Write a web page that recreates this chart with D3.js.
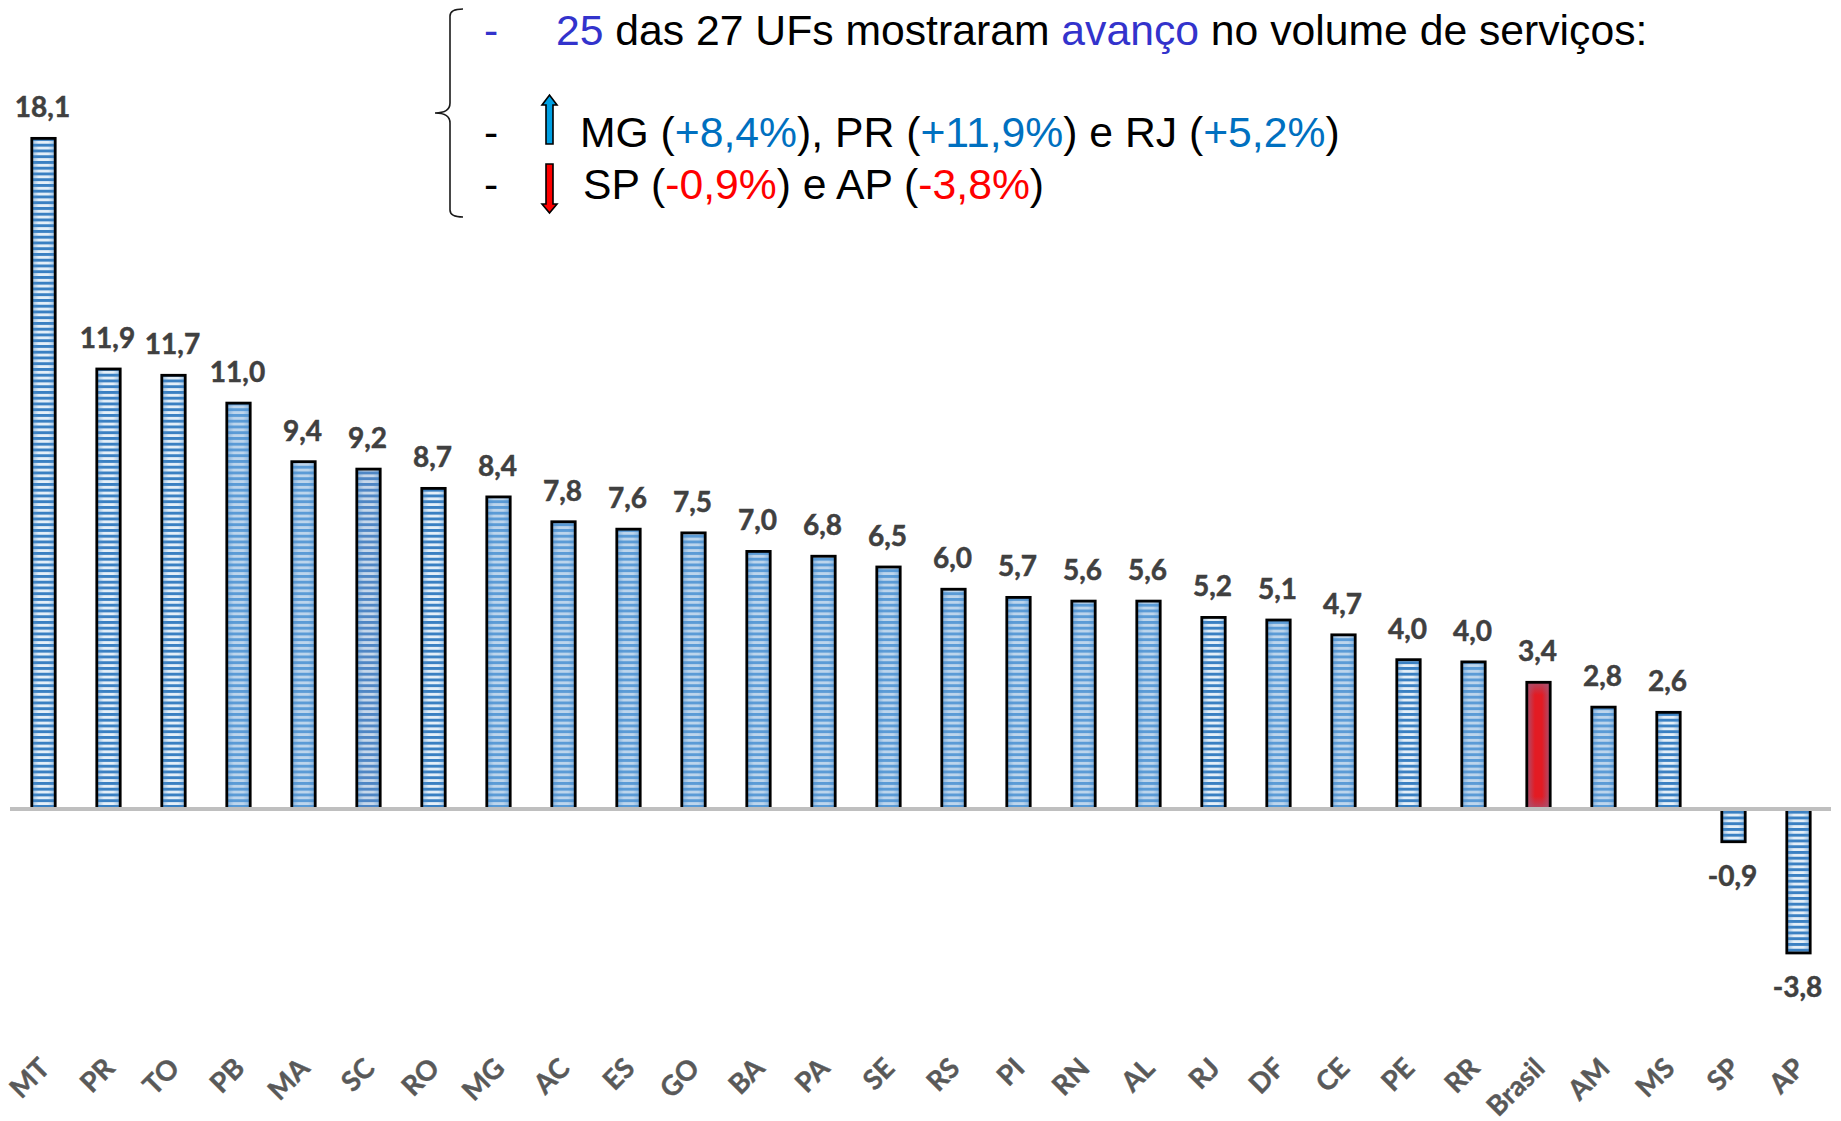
<!DOCTYPE html>
<html lang="pt">
<head>
<meta charset="utf-8">
<script src="https://cdn.jsdelivr.net/npm/d3@7"></script>
<style>
  html, body { margin: 0; background: #fff; }
  svg { display: block; }
  .note { font-family: "Liberation Sans", Arial, sans-serif; font-size: 42.7px; fill: #000; }
  .value-label { font-family: Lato, sans-serif; font-weight: 700; font-size: 28px; fill: #404040; stroke: #404040; stroke-width: 0.5; text-anchor: middle; }
  .x-axis text { font-family: Lato, sans-serif; font-weight: 700; font-size: 27.5px; fill: #595959; stroke: #595959; stroke-width: 0.4; }
</style>
</head>
<body>
<div id="chart"></div>
<script>
// Dados do grafico
const categories = ["MT", "PR", "TO", "PB", "MA", "SC", "RO", "MG", "AC", "ES", "GO", "BA", "PA", "SE",
    "RS", "PI", "RN", "AL", "RJ", "DF", "CE", "PE", "RR", "Brasil", "AM", "MS", "SP", "AP"];
// Alturas; os rotulos impressos ficam em value_labels
const values = [18.09, 11.87, 11.70, 10.95, 9.37, 9.17, 8.65, 8.42, 7.75, 7.55, 7.45, 6.95, 6.82, 6.53,
    5.93, 5.71, 5.61, 5.61, 5.17, 5.10, 4.70, 4.03, 3.97, 3.42, 2.75, 2.61, -0.88, -3.88];
const value_labels = ["18,1", "11,9", "11,7", "11,0", "9,4", "9,2", "8,7", "8,4", "7,8", "7,6", "7,5", "7,0", "6,8", "6,5",
    "6,0", "5,7", "5,6", "5,6", "5,2", "5,1", "4,7", "4,0", "4,0", "3,4", "2,8", "2,6", "-0,9", "-3,8"];
const highlighted = ["Brasil"];
const crisp_bars = ["MT", "PR", "TO", "RO", "RJ", "PE", "MS", "SP", "AP"];
const muted_bars = ["SC"];

// Texto do quadro, cada trecho com a sua cor
const line_1 = [["25", "#3333cc"], [" das 27 UFs mostraram ", "#000"], ["avanço", "#3333cc"], [" no volume de serviços:", "#000"]];
const line_2 = [["MG (", "#000"], ["+8,4%", "#0070c0"], ["), PR (", "#000"], ["+11,9%", "#0070c0"], [") e RJ (", "#000"], ["+5,2%", "#0070c0"], [")", "#000"]];
const line_3 = [["SP (", "#000"], ["-0,9%", "#ff0000"], [") e AP (", "#000"], ["-3,8%", "#ff0000"], [")", "#000"]];

const width = 1841, height = 1121;

const svg = d3.select("#chart").append("svg")
    .attr("width", width)
    .attr("height", height);

const x = d3.scaleBand()
    .domain(categories)
    .range([11, 1831])
    .paddingInner(0.64)
    .paddingOuter(0.32);

const y = d3.scaleLinear()
    .domain([-3.8, 18.1])
    .range([950, 138]);

// Listras azuis e brilho nas bordas das barras
const defs = svg.append("defs");

function add_stripes(id, dark, light){
    const p = defs.append("pattern")
        .attr("id", id)
        .attr("patternUnits", "userSpaceOnUse")
        .attr("width", 10)
        .attr("height", 5.75);
    p.append("rect").attr("width", 10).attr("height", 5.75).attr("fill", dark);
    p.append("rect").attr("y", 2.9).attr("width", 10).attr("height", 2.85).attr("fill", light);
}
add_stripes("stripes-crisp", "#3a80c2", "#e4eff8");
add_stripes("stripes-soft", "#5b9bd6", "#bdd5ec");
add_stripes("stripes-muted", "#4f86c4", "#c6d7ea");

const edge_blue = defs.append("linearGradient").attr("id", "edge-blue");
[[0, 0.5], [0.3, 0], [0.7, 0], [1, 0.5]].forEach(s => {
    edge_blue.append("stop").attr("offset", s[0]).attr("stop-color", "#4a8ccb").attr("stop-opacity", s[1]);
});

const edge_red = defs.append("linearGradient").attr("id", "edge-red");
[[0, "#a9506f"], [0.35, "#e31b23"], [0.65, "#e31b23"], [1, "#a9506f"]].forEach(s => {
    edge_red.append("stop").attr("offset", s[0]).attr("stop-color", s[1]);
});

const cap_red = defs.append("linearGradient").attr("id", "cap-red")
    .attr("x1", 0).attr("x2", 0).attr("y1", 0).attr("y2", 1);
[[0, 0.85], [0.1, 0], [0.9, 0], [1, 0.85]].forEach(s => {
    cap_red.append("stop").attr("offset", s[0]).attr("stop-color", "#a9506f").attr("stop-opacity", s[1]);
});

const data = categories.map((c, i) => ({ name: c, value: values[i], label: value_labels[i] }));
const bar_top = d => y(Math.max(0, d.value));
const bar_height = d => Math.abs(y(d.value) - y(0));

function base_fill(d){
    if(highlighted.includes(d.name)) return "url(#edge-red)";
    if(crisp_bars.includes(d.name)) return "url(#stripes-crisp)";
    if(muted_bars.includes(d.name)) return "url(#stripes-muted)";
    return "url(#stripes-soft)";
}

// Barras
const bars = svg.append("g").attr("class", "bars");

bars.selectAll("rect.fill")
    .data(data)
    .enter()
    .append("rect")
    .attr("class", "fill")
    .attr("x", d => x(d.name))
    .attr("y", bar_top)
    .attr("width", x.bandwidth())
    .attr("height", bar_height)
    .attr("fill", base_fill);

bars.selectAll("rect.edge")
    .data(data)
    .enter()
    .append("rect")
    .attr("class", "edge")
    .attr("x", d => x(d.name))
    .attr("y", bar_top)
    .attr("width", x.bandwidth())
    .attr("height", bar_height)
    .attr("fill", d => highlighted.includes(d.name) ? "url(#cap-red)" : "url(#edge-blue)")
    .attr("stroke", "#000")
    .attr("stroke-width", 2.8);

// Linha do zero
svg.append("line")
    .attr("x1", 10)
    .attr("x2", 1831)
    .attr("y1", y(0))
    .attr("y2", y(0))
    .attr("stroke", "#bfbfbf")
    .attr("stroke-width", 4);

// Rotulos de valor
svg.selectAll("text.value-label")
    .data(data)
    .enter()
    .append("text")
    .attr("class", "value-label")
    .attr("x", d => x(d.name) + x.bandwidth() / 2 - 1)
    .attr("y", d => d.value >= 0 ? y(d.value) - 21 : y(d.value) + 44)
    .text(d => d.label);

// Eixo de categorias
const x_axis = svg.append("g")
    .attr("class", "x-axis")
    .attr("transform", "translate(0,1061)")
    .call(d3.axisBottom(x).tickSize(0).tickPadding(0));
x_axis.select(".domain").remove();
x_axis.selectAll("text")
    .attr("text-anchor", "end")
    .attr("dy", "0.35em")
    .attr("y", 0)
    .attr("x", 0)
    .attr("transform", "translate(1,2) rotate(-45)");

// Quadro de texto
function write_line(px, py, parts){
    const t = svg.append("text").attr("class", "note").attr("x", px).attr("y", py).attr("xml:space", "preserve");
    parts.forEach(p => t.append("tspan").attr("fill", p[1]).text(p[0]));
}
write_line(556, 45, line_1);
write_line(580, 147, line_2);
write_line(583, 199, line_3);
write_line(484, 45, [["-", "#3333cc"]]);
write_line(484, 147, [["-", "#000"]]);
write_line(484, 199, [["-", "#000"]]);

// Chave
svg.append("path")
    .attr("d", "M463,9 Q450,9 450,16 L450,103 Q450,113 435,113 Q450,113 450,123 L450,210 Q450,217 463,217")
    .attr("fill", "none")
    .attr("stroke", "#1a1a1a")
    .attr("stroke-width", 1.6);

// Setas
svg.append("path")
    .attr("d", "M546,144 L546,105 L542,105 L549.5,95 L557,105 L553,105 L553,144 Z")
    .attr("fill", "#00a0e3")
    .attr("stroke", "#000")
    .attr("stroke-width", 1.6);
svg.append("path")
    .attr("d", "M546,164 L546,204 L542,204 L549.5,213 L557,204 L553,204 L553,164 Z")
    .attr("fill", "#ff0000")
    .attr("stroke", "#000")
    .attr("stroke-width", 1.6);
</script>
</body>
</html>
